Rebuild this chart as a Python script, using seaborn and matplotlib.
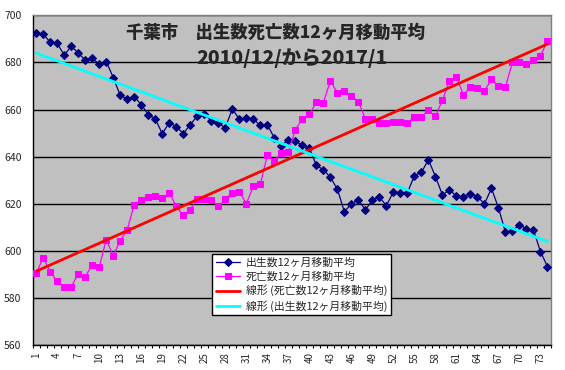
import numpy as np
import pandas as pd
import matplotlib
matplotlib.use("Agg")
import matplotlib.pyplot as plt
import seaborn as sns
from matplotlib.ticker import FixedLocator, MultipleLocator

# ---- data ----
months = list(range(1, 75))
births = [692.3, 692.0, 688.6, 688.1, 683.1, 686.9, 684.0, 681.0, 681.7, 679.3,
          680.4, 673.6, 666.0, 664.5, 665.5, 662.1, 657.9, 656.0, 649.8, 654.5,
          652.8, 649.8, 653.6, 657.3, 658.1, 655.3, 654.3, 652.3, 660.3, 655.9,
          656.6, 655.9, 653.3, 653.6, 648.0, 644.6, 647.2, 646.6, 644.8, 643.7,
          636.3, 634.5, 631.3, 626.2, 616.7, 620.0, 621.7, 617.4, 621.7, 622.8,
          619.3, 625.1, 624.7, 624.7, 632.0, 633.4, 638.7, 631.6, 623.8, 626.0,
          623.3, 622.8, 624.3, 623.1, 620.0, 626.6, 618.3, 607.9, 608.6, 611.2,
          609.3, 608.9, 599.7, 593.4]
deaths = [590.5, 597.2, 591.3, 587.1, 584.8, 584.8, 590.3, 589.1, 594.1, 593.3,
          604.8, 598.0, 604.4, 609.1, 619.7, 621.7, 622.8, 623.5, 622.4, 624.8,
          618.9, 615.1, 617.6, 622.1, 622.1, 621.8, 618.9, 622.0, 624.8, 625.2,
          620.1, 627.4, 628.3, 640.6, 638.4, 641.5, 642.0, 651.5, 656.0, 658.0,
          663.1, 663.0, 672.2, 667.2, 667.9, 665.8, 663.4, 656.0, 656.0, 654.3,
          654.3, 654.7, 654.7, 654.3, 656.9, 656.9, 659.7, 657.1, 664.0, 672.2,
          673.9, 666.2, 669.6, 669.1, 667.9, 672.8, 670.0, 669.6, 680.1, 680.1,
          679.3, 681.0, 682.8, 689.2]
tick_labels = [str(m) for m in range(1, 75, 3)]
labels = ["出生数12ヶ月移動平均", "死亡数12ヶ月移動平均",
          "線形 (死亡数12ヶ月移動平均)", "線形 (出生数12ヶ月移動平均)"]
title1 = "千葉市　出生数死亡数12ヶ月移動平均"
title2 = "2010/12/から2017/1"

df = pd.DataFrame({"month": months, "births": births, "deaths": deaths})

sns.set_style("white")
plt.rcParams["font.family"] = ["Noto Sans CJK JP", "DejaVu Sans"]

W, H = 565, 370
fig = plt.figure(figsize=(W / 100, H / 100), dpi=100)
L, R, T, B = 32.7, 551, 15.3, 345.3
ax = fig.add_axes([L / W, (H - B) / H, (R - L) / W, (B - T) / H])
ax.set_facecolor("#C0C0C0")

sns.lineplot(data=df, x="month", y="births", ax=ax, color="#000080", lw=0.9,
             marker="D", markersize=3.6, markeredgecolor="#000080",
             label=labels[0], zorder=3)
sns.lineplot(data=df, x="month", y="deaths", ax=ax, color="#FF00FF", lw=0.9,
             marker="s", markersize=4.2, markeredgecolor="#FF00FF",
             label=labels[1], zorder=3)
sns.regplot(data=df, x="month", y="deaths", ax=ax, scatter=False, ci=None,
            color="#FF0000", line_kws={"lw": 2.0, "zorder": 4}, label=labels[2])
sns.regplot(data=df, x="month", y="births", ax=ax, scatter=False, ci=None,
            color="#00FFFF", line_kws={"lw": 2.0, "zorder": 4}, label=labels[3])

ax.set_xlim(0.5, 74.5)
ax.set_ylim(560, 700)
ax.set_xlabel("")
ax.set_ylabel("")

ax.yaxis.set_major_locator(MultipleLocator(20))
ax.grid(axis="y", color="black", lw=1.0)
ax.set_axisbelow(True)
ax.tick_params(axis="y", length=0, pad=8, labelsize=7.5)

ax.set_xticks(list(range(1, 75, 3)))
ax.set_xticklabels(tick_labels, rotation=90, fontsize=7)
ax.xaxis.set_minor_locator(FixedLocator(np.arange(0.5, 75, 1.0)))
ax.tick_params(axis="x", which="major", length=0, pad=5)
ax.tick_params(axis="x", which="minor", length=2.5, width=0.8, color="black",
               direction="out", bottom=True)

for s in ["left", "bottom"]:
    ax.spines[s].set_color("black")
    ax.spines[s].set_linewidth(1.0)
for s in ["top", "right"]:
    ax.spines[s].set_color("#808080")
    ax.spines[s].set_linewidth(1.0)

ax.text((275.5 - L) / (R - L), 1 - (33 - T) / (B - T), title1, transform=ax.transAxes,
        ha="center", va="center", fontsize=12.5, fontweight="heavy")
ax.text((291.5 - L) / (R - L), 1 - (58 - T) / (B - T), title2, transform=ax.transAxes,
        ha="center", va="center", fontsize=14, fontweight="heavy")

leg = ax.legend(loc="upper left", bbox_to_anchor=((212.3 - L) / (R - L), 1 - (254 - T) / (B - T)),
                fontsize=7.8, frameon=True, fancybox=False, edgecolor="black",
                framealpha=1, borderpad=0.3, labelspacing=0.32, handlelength=2.3,
                handletextpad=0.5, borderaxespad=0)
leg.get_frame().set_linewidth(1.0)

fig.savefig("out.png", dpi=100, facecolor="white")
